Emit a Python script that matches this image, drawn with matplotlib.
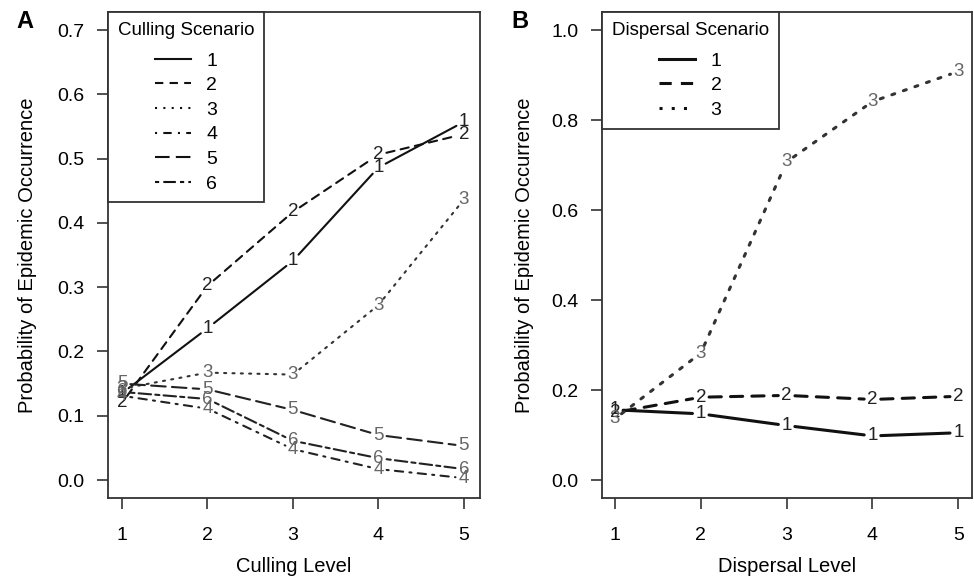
import matplotlib
matplotlib.use('Agg')
import matplotlib.pyplot as plt
from matplotlib.lines import Line2D

plt.rcParams['font.family'] = ['Liberation Sans', 'DejaVu Sans']

levels = [1, 2, 3, 4, 5]

# panel A: culling scenarios 1..6
cull_names = ['1', '2', '3', '4', '5', '6']
cull_1 = [0.135, 0.236, 0.341, 0.486, 0.557]
cull_2 = [0.120, 0.302, 0.417, 0.506, 0.538]
cull_3 = [0.142, 0.167, 0.164, 0.272, 0.436]
cull_4 = [0.131, 0.111, 0.048, 0.017, 0.003]
cull_5 = [0.150, 0.141, 0.109, 0.070, 0.053]
cull_6 = [0.137, 0.126, 0.061, 0.034, 0.017]

# panel B: dispersal scenarios 1..3
disp_names = ['1', '2', '3']
disp_1 = [0.156, 0.147, 0.121, 0.098, 0.105]
disp_2 = [0.150, 0.184, 0.188, 0.179, 0.186]
disp_3 = [0.136, 0.282, 0.707, 0.841, 0.908]

# R lty 1..6
LTY = ['-', (0, (4, 3)), (0, (1, 3)), (0, (1, 3, 4, 3)), (0, (7, 3)), (0, (2, 2, 6, 2))]
LINE_COL = ['#111111', '#111111', '#333333', '#222222', '#222222', '#222222']
TEXT_COL = ['#222222', '#222222', '#666666', '#666666', '#666666', '#666666']
SPINE = '#333333'


def draw_panel(ax, series, names, lw, title, xlabel, yticks, ylim, xlim):
    for i, vals in enumerate(series):
        # type="b": segments with a gap around each label
        for k in range(len(levels) - 1):
            ax.annotate('', xy=(levels[k + 1], vals[k + 1]), xytext=(levels[k], vals[k]),
                        xycoords='data', annotation_clip=False,
                        arrowprops=dict(arrowstyle='-', shrinkA=6, shrinkB=6,
                                        lw=lw, ls=LTY[i], color=LINE_COL[i]))
        for x, y in zip(levels, vals):
            ax.text(x, y, names[i], ha='center', va='center', fontsize=13.5,
                    color=TEXT_COL[i])

    ax.set_xlim(*xlim)
    ax.set_ylim(*ylim)
    ax.set_xticks(levels)
    ax.set_yticks(yticks)
    ax.set_yticklabels([f'{t:.1f}' for t in yticks])
    ax.tick_params(direction='out', length=8, width=1.2, color=SPINE, labelsize=14)
    ax.tick_params(axis='y', pad=9)
    ax.tick_params(axis='x', pad=13)
    for s in ax.spines.values():
        s.set_color(SPINE)
        s.set_linewidth(1.3)

    ax.set_xlabel(xlabel, fontsize=14.5)
    ax.set_ylabel('Probability of Epidemic Occurrence', fontsize=14.5)
    ax.xaxis.set_label_coords(0.5, -0.121)
    ax.xaxis.label.set_va('top')

    handles = [Line2D([], [], ls=LTY[i], lw=lw, color='#111111') for i in range(len(names))]
    leg = ax.legend(handles, names, title=title, loc='upper left', bbox_to_anchor=(0, 1),
                    borderaxespad=0, fontsize=14, title_fontsize=13.5, handlelength=1.85,
                    handletextpad=0.8, labelspacing=0.36, borderpad=0.5,
                    fancybox=False, framealpha=1, edgecolor=SPINE)
    leg.get_frame().set_linewidth(1.3)
    # a bit more room between the title and the first entry
    leg._legend_box.sep += 4.5


fig = plt.figure(figsize=(9.74, 5.78), dpi=100)
axA = fig.add_axes([0.1109, 0.1384, 0.3819, 0.8408])
axB = fig.add_axes([0.6181, 0.1384, 0.3799, 0.8408])

draw_panel(axA, [cull_1, cull_2, cull_3, cull_4, cull_5, cull_6], cull_names, 1.5,
           'Culling Scenario', 'Culling Level',
           [0.0, 0.1, 0.2, 0.3, 0.4, 0.5, 0.6, 0.7], (-0.028, 0.728), (0.836, 5.19))
draw_panel(axB, [disp_1, disp_2, disp_3], disp_names, 2.2,
           'Dispersal Scenario', 'Dispersal Level',
           [0.0, 0.2, 0.4, 0.6, 0.8, 1.0], (-0.04, 1.04), (0.85, 5.16))

axA.yaxis.set_label_coords(-0.191, 0.5)
axB.yaxis.set_label_coords(-0.184, 0.5)

fig.text(0.026, 0.962, 'A', fontsize=17, weight='bold', ha='center', va='center')
fig.text(0.534, 0.962, 'B', fontsize=17, weight='bold', ha='center', va='center')

fig.savefig('out.png', dpi=100)
